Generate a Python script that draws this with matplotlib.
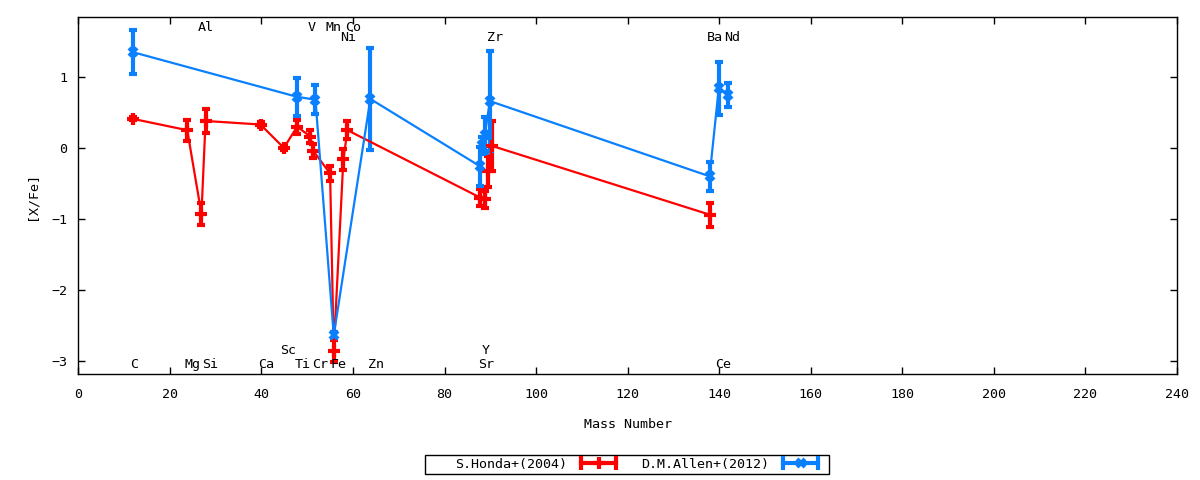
import matplotlib
matplotlib.use("Agg")
import matplotlib.pyplot as plt
from matplotlib.transforms import offset_copy
from matplotlib.lines import Line2D
from matplotlib.patches import Rectangle
from matplotlib.legend_handler import HandlerLine2D, HandlerTuple

# ---- data ----
honda_mass = [11.9, 23.8, 26.9, 27.8, 39.8, 44.9, 47.8, 50.7, 51.3, 55.0, 55.8, 57.9, 58.8,
              87.8, 88.9, 89.6, 90.3, 137.9]
honda_xfe = [0.41, 0.25, -0.93, 0.38, 0.33, 0.00, 0.30, 0.16, -0.04, -0.36, -2.86, -0.16, 0.25,
             -0.70, -0.72, -0.33, 0.03, -0.94]
honda_err = [0.02, 0.15, 0.15, 0.17, 0.03, 0.03, 0.10, 0.09, 0.10, 0.10, 0.15, 0.15, 0.13,
             0.12, 0.12, 0.22, 0.35, 0.17]

allen_mass = [11.9, 47.8, 51.8, 55.8, 63.8, 87.8, 88.1, 88.8, 89.9, 137.9, 139.9, 141.9]
allen_xfe = [1.35, 0.72, 0.68, -2.64, 0.69, -0.26, 0.04, 0.18, 0.66, -0.40, 0.84, 0.74]
allen_err = [0.31, 0.27, 0.20, 0.04, 0.72, 0.28, 0.12, 0.25, 0.71, 0.20, 0.37, 0.17]

elements = ["C", "Mg", "Al", "Si", "Ca", "Sc", "Ti", "V", "Cr", "Mn", "Fe", "Co", "Ni", "Zn",
            "Sr", "Y", "Zr", "Ba", "Ce", "Nd"]
elem_x = [11.5, 23.5, 26.4, 27.2, 39.5, 44.3, 47.5, 50.3, 51.2, 54.3, 55.4, 58.5, 57.4, 63.5,
          87.5, 88.4, 89.5, 137.5, 139.3, 141.4]
elem_y = [-3.05, -3.05, 1.69, -3.05, -3.05, -2.85, -3.05, 1.69, -3.05, 1.69, -3.05, 1.69, 1.55,
          -3.05, -3.05, -2.85, 1.55, 1.55, -3.05, 1.55]

xticks = list(range(0, 241, 20))
yticks = [-3, -2, -1, 0, 1]
series_labels = ["S.Honda+(2004)", "D.M.Allen+(2012)"]

RED = "#ff0000"
BLUE = "#0a80ff"
FONT = "DejaVu Sans Mono"
FS = 9.6

plt.rcParams["font.family"] = [FONT, "DejaVu Sans"]
plt.rcParams["font.size"] = FS

fig = plt.figure(figsize=(12, 4.8), dpi=100)
ax = fig.add_axes([78.3 / 1200, (480 - 374.3) / 480, (1177 - 78.3) / 1200, (374.3 - 17) / 480])

styles = [
    dict(color=RED, marker="+", ms=8, mew=3),
    dict(color=BLUE, marker="x", ms=6, mew=3),
]
datasets = [(honda_mass, honda_xfe, honda_err), (allen_mass, allen_xfe, allen_err)]
for (xs, ys, es), st in zip(datasets, styles):
    ax.errorbar(xs, ys, yerr=es, color=st["color"], lw=1.6, elinewidth=3,
                capsize=3, capthick=3, marker=st["marker"], ms=st["ms"], mew=st["mew"])

trans = offset_copy(ax.transData, fig=fig, x=-1, y=0, units="dots")
for name, ex, ey in zip(elements, elem_x, elem_y):
    ax.text(ex, ey, name, ha="left", va="center", fontsize=FS, transform=trans)

ax.set_xlim(0, 240)
ax.set_ylim(-3.19, 1.845)
ax.set_xticks(xticks)
ax.set_yticks(yticks)
ax.tick_params(direction="in", top=True, right=True, length=5, width=1, labelsize=FS)
ax.tick_params(axis="x", pad=10)
ax.tick_params(axis="y", pad=8)
for s in ax.spines.values():
    s.set_linewidth(1)

ax.set_xlabel("Mass Number", fontsize=FS)
ax.xaxis.set_label_coords(0.5, (374.3 - 425) / 357.3)
ax.xaxis.label.set_va("center")
ax.set_ylabel("[X/Fe]", fontsize=FS)
ax.yaxis.set_label_coords((32 - 78.3) / 1098.7, 0.5)
ax.yaxis.label.set_va("center")

# ---- gnuplot-style key: text, then horizontal sample with caps and point ----
handles = []
hmap = {}
for st in styles:
    caps = Line2D([], [], color=st["color"], lw=3, marker="|", ms=10, mew=3)
    mid = Line2D([], [], color=st["color"], lw=0, marker=st["marker"], ms=st["ms"], mew=st["mew"])
    hmap[caps] = HandlerLine2D(numpoints=2)
    hmap[mid] = HandlerLine2D(numpoints=1)
    handles.append((caps, mid))
hmap[tuple] = HandlerTuple(ndivide=1, pad=0)

leg = fig.legend(handles, series_labels, handler_map=hmap, loc="center",
                 bbox_to_anchor=(638.5 / 1200, 1 - 464.5 / 480), ncol=2,
                 markerfirst=False, frameon=False, handlelength=3.2, borderpad=0,
                 borderaxespad=0, columnspacing=1.6, handletextpad=0.75, fontsize=FS)
fig.add_artist(Rectangle((425 / 1200, 6 / 480), 404 / 1200, 19 / 480,
                         transform=fig.transFigure, fill=False, lw=1, ec="black"))

fig.savefig("out.png", dpi=100)
